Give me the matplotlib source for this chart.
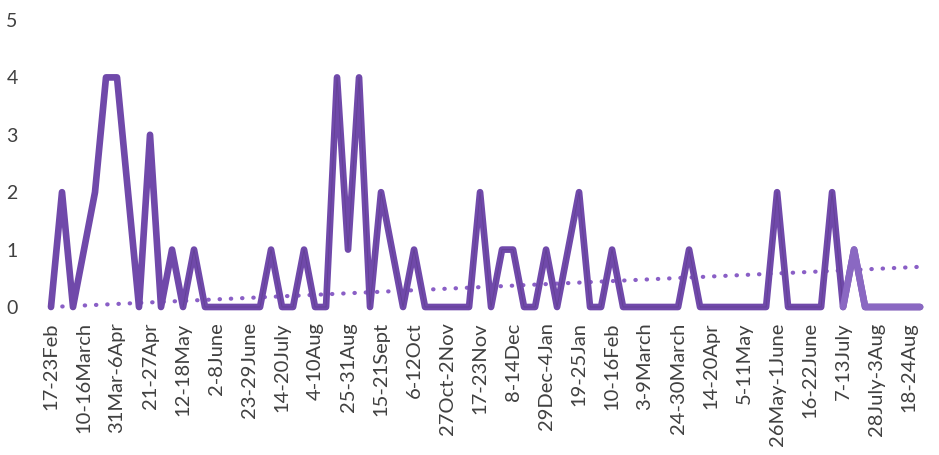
import numpy as np
import matplotlib
matplotlib.use('Agg')
from matplotlib import pyplot as plt

# weekly counts, 17-23 Feb (week 0) to 25-31 Aug (week 79)
counts = [0, 2, 0, 1, 2, 4, 4, 2, 0, 3,
          0, 1, 0, 1, 0, 0, 0, 0, 0, 0,
          1, 0, 0, 1, 0, 0, 4, 1, 4, 0,
          2, 1, 0, 1, 0, 0, 0, 0, 0, 2,
          0, 1, 1, 0, 0, 1, 0, 1, 2, 0,
          0, 1, 0, 0, 0, 0, 0, 0, 1, 0,
          0, 0, 0, 0, 0, 0, 2, 0, 0, 0,
          0, 2, 0, 1, 0, 0, 0, 0, 0, 0]

# labels shown on every third week
week_labels = ['17-23Feb', '10-16March', '31Mar-6Apr', '21-27Apr', '12-18May',
               '2-8June', '23-29June', '14-20July', '4-10Aug', '25-31Aug',
               '15-21Sept', '6-12Oct', '27Oct-2Nov', '17-23Nov', '8-14Dec',
               '29Dec-4Jan', '19-25Jan', '10-16Feb', '3-9March', '24-30March',
               '14-20Apr', '5-11May', '26May-1June', '16-22June', '7-13July',
               '28July-3Aug', '18-24Aug']

# trend line end values
trend_ends = [0.0, 0.70]

weeks = np.arange(len(counts))
counts = np.array(counts)

plt.rcParams['font.family'] = ['Lato', 'DejaVu Sans']

fig = plt.figure(figsize=(9.39, 4.55), dpi=100)
ax = fig.add_axes([40/939, (455-307)/455, 890/939, 287/455])

ax.plot(weeks, counts, color='#7049aa', lw=4.8, solid_joinstyle='round',
        solid_capstyle='round', clip_on=False, zorder=3)
mid = slice(12, 73)
ax.plot(weeks[mid], counts[mid], color='#56397f', lw=0.6, clip_on=False,
        zorder=4, alpha=0.5)
# the tail of the line is drawn paler in the original
tail = slice(72, None)
ax.plot(weeks[tail], counts[tail], color='#8a68c2', lw=4.8,
        solid_joinstyle='round', solid_capstyle='round', clip_on=False,
        zorder=4)
ax.plot([weeks[0], weeks[-1]], trend_ends, color='#8a5fc6', lw=3,
        linestyle=(0, (0.1, 2.6)), dash_capstyle='round', clip_on=False,
        zorder=2)

ax.set_xlim(-1.0, 79.9)
ax.set_ylim(0, 5)
ax.set_yticks(range(6))
ax.set_xticks(weeks[::3])
ax.set_xticklabels(week_labels, rotation=90, va='top', ha='center')
ax.tick_params(axis='both', length=0, colors='#404040')
ax.tick_params(axis='x', pad=11, labelsize=14.5)
ax.tick_params(axis='y', pad=16, labelsize=14)
for s in ax.spines.values():
    s.set_visible(False)

fig.savefig('out.png', dpi=100)
